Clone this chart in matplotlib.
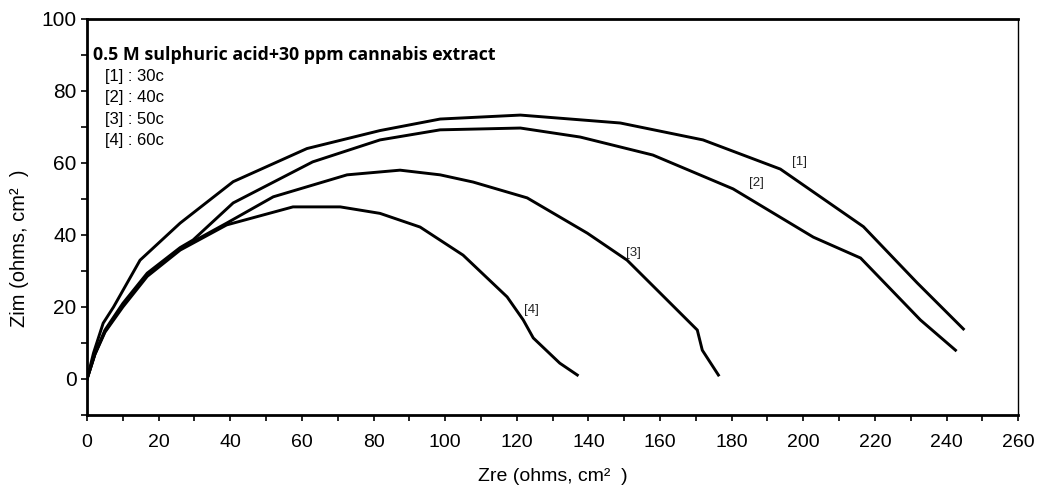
import matplotlib.pyplot as plt
from matplotlib.ticker import MultipleLocator

plt.rcParams['font.family'] = ['Liberation Sans', 'DejaVu Sans']

# Nyquist data (Zre, Zim in ohms cm2)
zre_30 = [0, 1.8, 4.5, 7.4, 14.8, 26, 40.8, 61.4, 81.8, 98.6, 121, 148.9, 172, 193.6, 216.8, 231.8, 244.7]
zim_30 = [0, 7.2, 15.5, 20, 33, 43.3, 54.8, 64, 69, 72.2, 73.3, 71.1, 66.4, 58.3, 42.3, 26.7, 13.9]

zre_40 = [0, 2.2, 5, 10, 16.8, 26, 29.6, 40.8, 63, 81.8, 98.6, 121, 137.7, 158, 180.4, 202.8, 216, 232.7, 242.5]
zim_40 = [0, 7, 13.6, 21, 29.4, 36.5, 38.6, 48.9, 60.3, 66.4, 69.2, 69.7, 67.2, 62.2, 52.8, 39.4, 33.6, 16.4, 8]

zre_50 = [0, 2.2, 5, 10, 16.8, 26, 39, 52, 72.6, 87.4, 98.6, 107.8, 122.9, 139.7, 150.8, 160, 170.4, 171.8, 176.3]
zim_50 = [0, 7, 13.2, 20.5, 28.8, 36.2, 43.3, 50.6, 56.7, 58, 56.7, 54.7, 50.3, 40.5, 33, 23.9, 13.6, 8, 1.1]

zre_60 = [0, 2.2, 5, 10, 16.8, 26, 39, 57.5, 70.7, 81.8, 93, 105, 117.3, 121.8, 124.6, 132, 136.9]
zim_60 = [0, 6.8, 13, 20, 28.5, 35.8, 42.8, 47.8, 47.8, 46, 42.2, 34.4, 22.8, 16.4, 11.4, 4.4, 1.1]

curves = [(zre_30, zim_30), (zre_40, zim_40), (zre_50, zim_50), (zre_60, zim_60)]
curve_tags = ['[1]', '[2]', '[3]', '[4]']
tag_pos = [(199, 60.3), (186.9, 54.4), (152.5, 35), (124, 19.2)]
temps = ['30c', '40c', '50c', '60c']

fig = plt.figure(figsize=(10.4, 4.92), dpi=100)
ax = fig.add_axes([0.0837, 0.1565, 0.8953, 0.805])

for zr, zi in curves:
    ax.plot(zr, zi, color='black', lw=2.1, solid_joinstyle='miter')

for tag, (tx, ty) in zip(curve_tags, tag_pos):
    ax.text(tx, ty, tag, fontsize=9.5, ha='center', va='center', color='#222222')

ax.text(1.7, 90, '0.5 M sulphuric acid+30 ppm cannabis extract', fontsize=12.8,
        fontweight='bold', va='center', family=['Open Sans', 'DejaVu Sans'])
for i, (tag, t) in enumerate(zip(curve_tags, temps)):
    ax.text(5, 83.9 - i * 5.85, f'{tag} : {t}', fontsize=12, va='center')

ax.set_xlim(0, 260)
ax.set_ylim(-10, 100)
ax.xaxis.set_major_locator(MultipleLocator(20))
ax.xaxis.set_minor_locator(MultipleLocator(10))
ax.set_yticks([0, 20, 40, 60, 80, 100])
ax.set_yticks([-10, 10, 30, 50, 70, 90], minor=True)
ax.tick_params(which='both', direction='out', length=4, width=1.2, labelsize=15)
ax.tick_params(axis='x', pad=10, labelsize=14)

for side in ['left', 'bottom', 'top']:
    ax.spines[side].set_linewidth(2)
ax.spines['right'].set_linewidth(1)

ax.set_xlabel('Zre (ohms, cm\u00b2  )', fontsize=14, labelpad=12)
ax.set_ylabel('Zim (ohms, cm\u00b2  )', fontsize=14.5)
ax.yaxis.set_label_coords(-0.062, 0.42)

fig.savefig('out.png', dpi=100)
